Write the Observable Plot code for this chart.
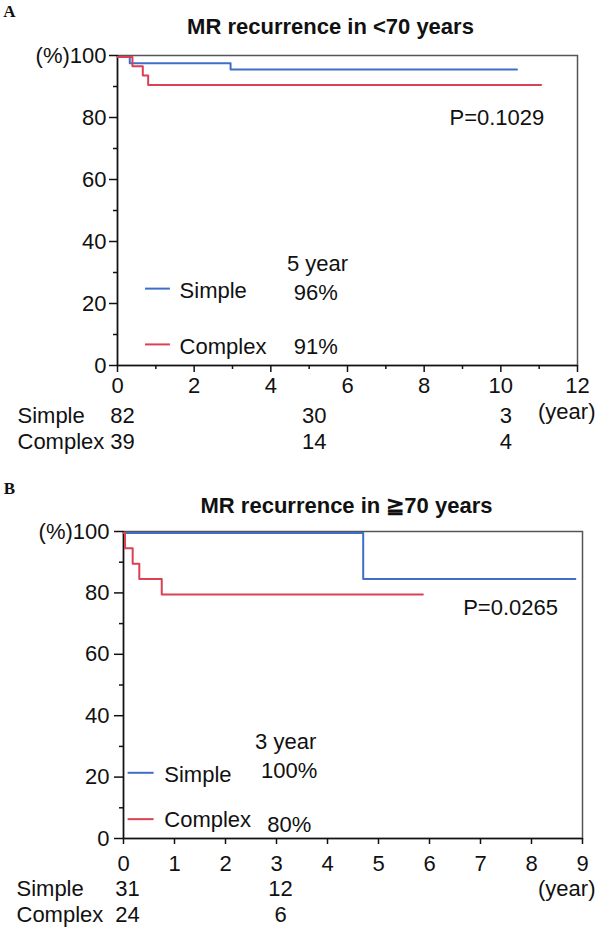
<!DOCTYPE html>
<html>
<head>
<meta charset="utf-8">
<script src="https://cdn.jsdelivr.net/npm/d3@7"></script>
<script src="https://cdn.jsdelivr.net/npm/@observablehq/plot@0.6"></script>
<style>
  body { margin: 0; background: #fff; }
  #chart svg { display: block; }
</style>
</head>
<body>
<div id="chart"></div>
<script>
// ---- Panel A: MR recurrence in patients under 70 ----
const aSimpleTime   = [0, 0.32, 2.95, 10.42];
const aSimpleFree   = [100, 98, 96, 96];
const aComplexTime  = [0, 0.39, 0.66, 0.80, 11.05];
const aComplexFree  = [100, 97, 94, 91, 91];
const aRiskTimes    = [0, 5, 10];
const aRiskSimple   = [82, 30, 3];
const aRiskComplex  = [39, 14, 4];
const aXTicks       = [0, 2, 4, 6, 8, 10, 12];
const aXMinor       = [1, 3, 5, 7, 9, 11];
const aRate         = {year: "5 year", simple: "96%", complex: "91%"};
const aPValue       = "P=0.1029";

// ---- Panel B: MR recurrence in patients 70 and over ----
const bSimpleTime   = [0, 4.70, 8.86];
const bSimpleFree   = [100, 85, 85];
const bComplexTime  = [0, 0.03, 0.18, 0.31, 0.75, 5.87];
const bComplexFree  = [100, 95, 90, 85, 80, 80];
const bRiskTimes    = [0, 3];
const bRiskSimple   = [31, 12];
const bRiskComplex  = [24, 6];
const bXTicks       = [0, 1, 2, 3, 4, 5, 6, 7, 8, 9];
const bRate         = {year: "3 year", simple: "100%", complex: "80%"};
const bPValue       = "P=0.0265";

// shared axis ticks and labels
const yTicks  = [0, 20, 40, 60, 80, 100];
const yMinor  = [10, 30, 50, 70, 90];
const groups  = ["Simple", "Complex"];

const BLUE = "#3f6ec6";
const RED  = "#da4253";
const INK  = "#111";

const kmRows = (t, s) => t.map((d, i) => ({t: d, s: s[i]}));

function panel(c) {
  const step = {x: "t", y: "s", curve: "step-after", strokeWidth: 2, dy: 1.5};
  return Plot.plot({
    width: 597,
    height: c.height,
    marginTop: c.mt, marginBottom: c.mb, marginLeft: c.ml, marginRight: c.mr,
    style: {fontFamily: "'Liberation Sans', Arial, sans-serif", fontSize: "22px", color: INK, background: "#fff", overflow: "visible"},
    x: {domain: c.xDomain},
    y: {domain: [0, 100]},
    marks: [
      Plot.frame({stroke: "#555", strokeWidth: 1.5}),
      // axes
      Plot.axisY(yTicks, {tickSize: c.yTick, tickPadding: c.yPad, strokeWidth: 1.5, label: null,
        tickFormat: d => d === 100 ? "(%)100" : String(d)}),
      Plot.axisY(yMinor, {tickSize: 4, strokeWidth: 1.5, label: null, tickFormat: () => ""}),
      Plot.axisX(c.xTicks, {tickSize: c.xTick, tickPadding: c.xPad, strokeWidth: 1.5, label: null}),
      ...(c.xMinor ? [Plot.axisX(c.xMinor, {tickSize: 4, strokeWidth: 1.5, label: null, tickFormat: () => ""})] : []),
      Plot.ruleX([0], {stroke: INK, strokeWidth: 1.5}),
      Plot.ruleY([0], {stroke: INK, strokeWidth: 1.5}),
      // Kaplan-Meier curves
      Plot.line(kmRows(c.simpleT, c.simpleS), {...step, stroke: BLUE}),
      Plot.line(kmRows(c.complexT, c.complexS), {...step, stroke: RED}),
      // legend with survival rates
      Plot.ruleY([c.leg.ySimple], {x1: c.leg.x1, x2: c.leg.x2, stroke: BLUE, strokeWidth: 2}),
      Plot.ruleY([c.leg.yComplex], {x1: c.leg.x1, x2: c.leg.x2, stroke: RED, strokeWidth: 2}),
      Plot.text([groups[0]], {x: c.leg.tx, y: c.leg.tySimple, textAnchor: "start", lineAnchor: "middle", fill: INK}),
      Plot.text([groups[1]], {x: c.leg.tx, y: c.leg.tyComplex, textAnchor: "start", lineAnchor: "middle", fill: INK}),
      Plot.text([c.rate.year], {x: c.leg.rx, y: c.leg.ryYear, lineAnchor: "middle", fill: INK}),
      Plot.text([c.rate.simple], {x: c.leg.rx2, y: c.leg.rySimple, lineAnchor: "middle", fill: INK}),
      Plot.text([c.rate.complex], {x: c.leg.rx2, y: c.leg.ryComplex, lineAnchor: "middle", fill: INK}),
      // log-rank p value
      Plot.text([c.p], {x: c.px, y: c.py, textAnchor: "start", lineAnchor: "middle", fill: INK}),
      // number at risk
      Plot.text([groups[0]], {frameAnchor: "bottom-left", dx: c.riskLabelDx, dy: 50, textAnchor: "start", lineAnchor: "middle", fill: INK}),
      Plot.text([groups[1]], {frameAnchor: "bottom-left", dx: c.riskLabelDx, dy: 76, textAnchor: "start", lineAnchor: "middle", fill: INK}),
      Plot.text(c.riskT, {x: d => d, text: (d, i) => String(c.riskS[i]), frameAnchor: "bottom", dy: 50, dx: c.riskDx, lineAnchor: "middle", fill: INK}),
      Plot.text(c.riskT, {x: d => d, text: (d, i) => String(c.riskC[i]), frameAnchor: "bottom", dy: 76, dx: c.riskDx, lineAnchor: "middle", fill: INK}),
      Plot.text(["(year)"], {frameAnchor: "bottom-right", dx: c.yearDx, dy: c.yearDy, textAnchor: "end", lineAnchor: "middle", fill: INK}),
      // panel letter and title
      Plot.text([c.letter], {frameAnchor: "top-left", dx: c.letterDx, dy: c.letterDy, textAnchor: "middle", lineAnchor: "middle",
        fontFamily: "'Liberation Serif', 'Times New Roman', serif", fontWeight: "bold", fontSize: 17, fill: INK}),
      Plot.text([c.title], {frameAnchor: "top-left", dx: c.titleDx, dy: c.titleDy, textAnchor: "middle", lineAnchor: "middle",
        fontWeight: "bold", fontSize: 22, fill: INK})
    ]
  });
}

const chart = document.getElementById("chart");

chart.append(panel({
  height: 465, mt: 55, mb: 100, ml: 117, mr: 20,
  xDomain: [0, 12], xTicks: aXTicks, xMinor: aXMinor,
  yTick: 8, yPad: 3, xTick: 7, xPad: 5,
  simpleT: aSimpleTime, simpleS: aSimpleFree,
  complexT: aComplexTime, complexS: aComplexFree,
  leg: {x1: 0.73, x2: 1.38, ySimple: 24.8, yComplex: 6.8, tx: 1.62, tySimple: 23.9, tyComplex: 6.1,
        rx: 5.22, rx2: 5.17, ryYear: 32.9, rySimple: 23.5, ryComplex: 6.1},
  rate: aRate, p: aPValue, px: 8.66, py: 79.7,
  riskT: aRiskTimes, riskS: aRiskSimple, riskC: aRiskComplex, riskDx: 5, riskLabelDx: -100,
  yearDx: 18, yearDy: 46,
  letter: "A", letterDx: -108, letterDy: -43.5,
  title: "MR recurrence in <70 years", titleDx: 213, titleDy: -29
}));

chart.append(panel({
  height: 464, mt: 66, mb: 91, ml: 123, mr: 15,
  xDomain: [0, 9], xTicks: bXTicks, xMinor: null,
  yTick: 9, yPad: 5, xTick: 6, xPad: 11,
  simpleT: bSimpleTime, simpleS: bSimpleFree,
  complexT: bComplexTime, complexS: bComplexFree,
  leg: {x1: 0.09, x2: 0.60, ySimple: 21.4, yComplex: 6.3, tx: 0.80, tySimple: 20.6, tyComplex: 6.0,
        rx: 3.18, rx2: 3.25, ryYear: 31.4, rySimple: 21.9, ryComplex: 4.3},
  rate: bRate, p: bPValue, px: 6.66, py: 75.0,
  riskT: bRiskTimes, riskS: bRiskSimple, riskC: bRiskComplex, riskDx: 4, riskLabelDx: -107,
  yearDx: 13, yearDy: 50,
  letter: "B", letterDx: -114, letterDy: -43,
  title: "MR recurrence in \u226770 years", titleDx: 223, titleDy: -26
}));
</script>
</body>
</html>
